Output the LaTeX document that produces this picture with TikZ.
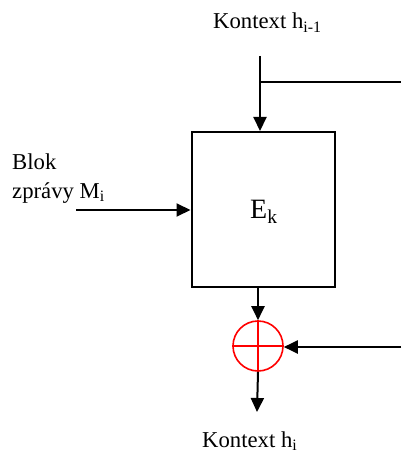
\documentclass[tikz,border=0pt]{standalone}
\usepackage{fontspec}
\setmainfont{Liberation Serif}
\usetikzlibrary{arrows.meta}
\tikzset{
  conn/.style={line width=2pt, -{Triangle[length=14pt,width=13pt]}},
  plain/.style={line width=2pt},
  lbl/.style={inner sep=0pt, font=\fontsize{22.7}{27}\selectfont},
}
\begin{document}
\begin{tikzpicture}[x=1pt,y=-1pt]
\useasboundingbox (0,0) rectangle (401,454);
% box
\node[draw, line width=2pt, minimum width=143pt, minimum height=155pt, inner sep=0pt] (box) at (263,209.5) {};
\node[inner sep=0pt, anchor=base west, font=\fontsize{28}{32}\selectfont] (ek) at (250,218) {E\textsubscript{k}};
% xor
\node[draw=red, circle, line width=1.6pt, minimum size=50pt, inner sep=0pt] (xor) at (258,346) {};
\draw[red, line width=1.6pt] (xor.north) -- (xor.south) (xor.west) -- (xor.east);
% labels
\node[lbl, anchor=base west] (ctxin) at (213,29) {Kontext h\textsubscript{i-1}};
\node[lbl, anchor=base west] (blok) at (12,170) {Blok};
\node[lbl, anchor=base west] (zpr) at (12,198) {zprávy M\textsubscript{i}};
\node[lbl, anchor=base west] (ctxout) at (202,447) {Kontext h\textsubscript{i}};
% coordinates
\coordinate (topstart) at (260,56);
\coordinate (branch) at (260,82);
\coordinate (rightA) at (401,82);
\coordinate (leftstart) at (76,210);
\coordinate (rightB) at (401,347);
\coordinate (outend) at (257,412);
% connectors
\draw[conn] (topstart) -- (box.north -| topstart);
\draw[plain] (branch) -- (rightA);
\draw[conn] (leftstart) -- (box.west |- leftstart);
\draw[conn] (box.south -| xor.north) -- (xor.north);
\draw[conn] (rightB) -- (xor.east |- rightB);
\draw[conn] (xor.south) -- (outend);
\end{tikzpicture}
\end{document}
